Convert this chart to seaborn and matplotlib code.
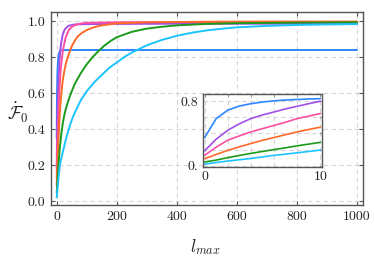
import numpy as np
import pandas as pd
import matplotlib
matplotlib.use("Agg")
import matplotlib.pyplot as plt
import seaborn as sns

# ---- data ----
x_blue = [0, 1, 2, 3, 4, 5, 6, 7, 8, 9, 10, 15, 20, 30, 50, 100, 200, 400, 600, 800, 1000]
y_blue = [0.35, 0.585, 0.69, 0.74, 0.77, 0.79, 0.805, 0.815, 0.822, 0.828, 0.832, 0.837, 0.839,
          0.839, 0.839, 0.839, 0.839, 0.839, 0.839, 0.839, 0.839]

x_purple = [0, 1, 2, 3, 4, 5, 6, 7, 8, 9, 10, 12, 15, 20, 25, 30, 40, 60, 100, 200, 400, 600,
            800, 1000]
y_purple = [0.185, 0.33, 0.44, 0.52, 0.585, 0.63, 0.667, 0.705, 0.737, 0.77, 0.80, 0.84, 0.88,
            0.925, 0.947, 0.96, 0.974, 0.981, 0.983, 0.984, 0.985, 0.985, 0.985, 0.985]

x_pink = [0, 1, 2, 3, 4, 5, 6, 7, 8, 9, 10, 12, 15, 20, 25, 30, 40, 50, 60, 80, 100, 200, 400,
          600, 800, 1000]
y_pink = [0.13, 0.23, 0.317, 0.37, 0.42, 0.46, 0.50, 0.54, 0.585, 0.615, 0.647, 0.70, 0.76,
          0.83, 0.875, 0.91, 0.95, 0.967, 0.977, 0.986, 0.99, 0.993, 0.994, 0.995, 0.995, 0.995]

x_orange = [0, 1, 2, 3, 4, 5, 6, 7, 8, 9, 10, 12, 15, 20, 25, 30, 35, 40, 50, 60, 70, 85, 100,
            125, 150, 200, 300, 500, 700, 1000]
y_orange = [0.087, 0.14, 0.19, 0.235, 0.275, 0.315, 0.35, 0.385, 0.42, 0.45, 0.478, 0.53, 0.59,
            0.67, 0.72, 0.76, 0.79, 0.815, 0.86, 0.89, 0.915, 0.935, 0.95, 0.966, 0.976, 0.987,
            0.993, 0.996, 0.997, 0.997]

x_green = [0, 1, 2, 3, 4, 5, 6, 7, 8, 9, 10, 12, 15, 20, 25, 30, 40, 50, 60, 70, 80, 90, 100,
           120, 140, 160, 180, 200, 250, 300, 350, 400, 500, 600, 800, 1000]
y_green = [0.046, 0.07, 0.10, 0.127, 0.153, 0.177, 0.20, 0.222, 0.247, 0.268, 0.29, 0.32, 0.37,
           0.43, 0.475, 0.51, 0.565, 0.61, 0.65, 0.68, 0.71, 0.735, 0.76, 0.80, 0.835, 0.865,
           0.89, 0.91, 0.94, 0.958, 0.968, 0.976, 0.984, 0.988, 0.991, 0.993]

x_cyan = [0, 1, 2, 3, 4, 5, 6, 7, 8, 9, 10, 12, 15, 20, 25, 30, 40, 50, 60, 70, 80, 90, 100,
          125, 150, 175, 200, 225, 250, 300, 350, 400, 450, 500, 550, 600, 700, 800, 900, 1000]
y_cyan = [0.02, 0.04, 0.058, 0.074, 0.09, 0.109, 0.128, 0.144, 0.16, 0.177, 0.194, 0.21, 0.235,
          0.27, 0.305, 0.34, 0.40, 0.45, 0.49, 0.525, 0.56, 0.585, 0.61, 0.66, 0.70, 0.74,
          0.77, 0.80, 0.825, 0.865, 0.895, 0.918, 0.935, 0.948, 0.957, 0.965, 0.973, 0.978,
          0.981, 0.983]

series_names = ["s1", "s2", "s3", "s4", "s5", "s6"]
colors = ["#2e86ff", "#a24ee8", "#ff4fa3", "#ff6a28", "#1c9a1c", "#1dc4ff"]

xs = [x_blue, x_purple, x_pink, x_orange, x_green, x_cyan]
ys = [y_blue, y_purple, y_pink, y_orange, y_green, y_cyan]
frames = []
for name, xv, yv in zip(series_names, xs, ys):
    frames.append(pd.DataFrame({"lmax": xv, "F": yv, "series": name}))
df = pd.concat(frames, ignore_index=True)
palette = dict(zip(series_names, colors))

main_xticks = [0, 200, 400, 600, 800, 1000]
main_yticks = [0.0, 0.2, 0.4, 0.6, 0.8, 1.0]

# ---- style ----
sns.set_theme(style="white")
plt.rcParams["font.family"] = ["cmr10", "DejaVu Serif"]
plt.rcParams["mathtext.fontset"] = "cm"
plt.rcParams["axes.formatter.use_mathtext"] = True
plt.rcParams["axes.unicode_minus"] = False

fig = plt.figure(figsize=(3.74, 2.58), dpi=100)
ax = fig.add_axes([0.1356, 0.2054, 0.835, 0.748])

sns.lineplot(data=df, x="lmax", y="F", hue="series", palette=palette,
             hue_order=series_names, estimator=None, sort=False,
             linewidth=1.4, legend=False, ax=ax)

ax.set_xlim(-20, 1020)
ax.set_ylim(-0.022, 1.05)
ax.set_xticks(main_xticks)
ax.set_yticks(main_yticks)
ax.set_xticklabels([str(t) for t in main_xticks])
ax.set_yticklabels([f"{t:.1f}" for t in main_yticks])
ax.grid(True, linestyle=(0, (4, 3)), color="#d6d6d6", linewidth=0.8)
ax.set_axisbelow(True)
for s in ax.spines.values():
    s.set_color("#555555")
    s.set_linewidth(1.0)
ax.tick_params(direction="in", length=3, width=0.8, color="#555555",
               top=True, right=True, bottom=True, left=True,
               labelsize=10, labelcolor="#222222", pad=4)

ax.set_xlabel(r"$l_{max}$", fontsize=12.5, color="#222222")
ax.xaxis.set_label_coords(0.494, -0.165)
ax.set_ylabel(r"$\dot{\mathcal{F}}_0$", fontsize=13, rotation=0, color="#222222",
              ha="center", va="center")
ax.yaxis.set_label_coords(-0.105, 0.48)

# ---- inset ----
ins = fig.add_axes([0.542, 0.3527, 0.319, 0.283])
dfi = df[df["lmax"] <= 10]
sns.lineplot(data=dfi, x="lmax", y="F", hue="series", palette=palette,
             hue_order=series_names, estimator=None, sort=False,
             linewidth=1.2, legend=False, ax=ins)
ins.set_xlim(-0.17, 10.15)
ins.set_ylim(-0.016, 0.89)
ins.set_xticks([0, 2, 4, 6, 8, 10])
ins.set_xticklabels(["0", "", "", "", "", "10"])
ins.set_yticks([0.0, 0.2, 0.4, 0.6, 0.8])
ins.set_yticklabels(["0.", "", "", "", "0.8"])
ins.grid(True, linestyle=(0, (4, 3)), color="#d6d6d6", linewidth=0.8)
ins.set_axisbelow(True)
ins.set_xlabel("")
ins.set_ylabel("")
for s in ins.spines.values():
    s.set_color("#555555")
    s.set_linewidth(1.0)
ins.tick_params(direction="in", length=2, width=0.6, color="#888888",
                top=True, right=True, labelsize=10, labelcolor="#222222", pad=3)
ins.set_facecolor("white")

fig.savefig("out.png", dpi=100)
